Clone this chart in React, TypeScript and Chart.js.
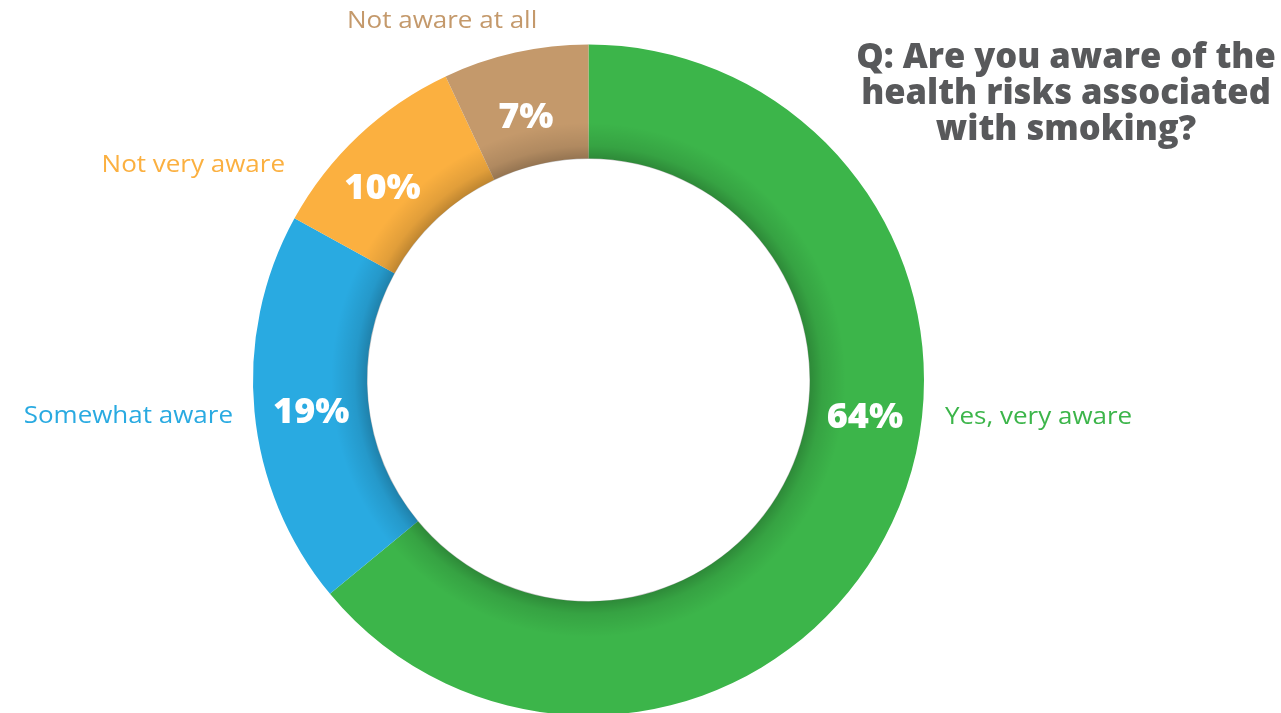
import React, { useEffect, useRef } from "react";
import { Chart, registerables } from "chart.js";

Chart.register(...registerables);

const categories = ["Yes, very aware", "Somewhat aware", "Not very aware", "Not aware at all"];
const values = [64, 19, 10, 7];
const colors = ["#3cb54a", "#29aae1", "#fbb040", "#c4996b"];
const titleLines = ["Q: Are you aware of the", "health risks associated", "with smoking?"];

const CANVAS_W = 1281;
const CANVAS_H = 730;

// label placement (layout only)
const PCT_ANGLE_OVERRIDE: Record<number, number> = { 0: 97, 2: 313.5 };
const PCT_NUDGE: [number, number][] = [[0, 0], [0, 3], [-4, -4], [-2, 6]];
const OUTER_LABELS: { x: number; y: number; align: CanvasTextAlign }[] = [
  { x: 945, y: 424, align: "left" },
  { x: 233, y: 423, align: "right" },
  { x: 285, y: 172, align: "right" },
  { x: 347, y: 28, align: "left" },
];
const LABEL_STRETCH = 1.13;

const innerShadow = {
  id: "innerShadow",
  afterDatasetsDraw(chart: any) {
    const arc = chart.getDatasetMeta(0).data[0];
    if (!arc) return;
    const { x, y, innerRadius } = arc.getProps(["x", "y", "innerRadius"], true);
    const ctx: CanvasRenderingContext2D = chart.ctx;
    const w = 36;
    const g = ctx.createRadialGradient(x, y, innerRadius, x, y, innerRadius + w);
    g.addColorStop(0, "rgba(0,0,0,0.24)");
    g.addColorStop(0.35, "rgba(0,0,0,0.1)");
    g.addColorStop(1, "rgba(0,0,0,0)");
    ctx.save();
    ctx.beginPath();
    ctx.arc(x, y, innerRadius + w, 0, Math.PI * 2);
    ctx.arc(x, y, innerRadius - 0.5, 0, Math.PI * 2, true);
    ctx.fillStyle = g;
    ctx.fill("evenodd");
    ctx.restore();
  },
};

const labelsPlugin = {
  id: "labelsPlugin",
  afterDraw(chart: any) {
    const ctx: CanvasRenderingContext2D = chart.ctx;
    const meta = chart.getDatasetMeta(0);
    ctx.save();
    // percentages
    ctx.fillStyle = "#ffffff";
    ctx.font = "800 36px 'Open Sans'";
    ctx.textAlign = "center";
    ctx.textBaseline = "middle";
    meta.data.forEach((arc: any, i: number) => {
      const p = arc.getProps(["x", "y", "startAngle", "endAngle", "innerRadius", "outerRadius"], true);
      let ang = (p.startAngle + p.endAngle) / 2;
      if (PCT_ANGLE_OVERRIDE[i] !== undefined) {
        ang = -Math.PI / 2 + (PCT_ANGLE_OVERRIDE[i] * Math.PI) / 180;
      }
      const r = (p.innerRadius + p.outerRadius) / 2;
      const tx = p.x + Math.cos(ang) * r + PCT_NUDGE[i][0];
      const ty = p.y + Math.sin(ang) * r + 4 + PCT_NUDGE[i][1];
      ctx.fillText(values[i] + "%", tx, ty);
    });
    // category labels
    ctx.font = "400 23px 'Open Sans'";
    ctx.textBaseline = "alphabetic";
    categories.forEach((c, i) => {
      const l = OUTER_LABELS[i];
      ctx.save();
      ctx.fillStyle = colors[i];
      ctx.textAlign = l.align;
      ctx.translate(l.x, l.y);
      ctx.scale(LABEL_STRETCH, 1);
      ctx.fillText(c, 0, 0);
      ctx.restore();
    });
    // title
    ctx.fillStyle = "#58595b";
    ctx.font = "800 34.5px 'Open Sans'";
    ctx.textAlign = "center";
    ctx.textBaseline = "alphabetic";
    titleLines.forEach((t, i) => {
      ctx.fillText(t, 1066, 67.5 + i * 36);
    });
    ctx.restore();
  },
};

export default function App() {
  const ref = useRef<HTMLCanvasElement | null>(null);
  useEffect(() => {
    if (!ref.current) return;
    const chart = new Chart(ref.current, {
      type: "doughnut",
      data: {
        labels: categories,
        datasets: [
          {
            data: values,
            backgroundColor: colors,
            borderWidth: 0,
            hoverOffset: 0,
          },
        ],
      },
      options: {
        responsive: false,
        animation: false,
        cutout: "66%",
        layout: { padding: { left: 253, right: CANVAS_W - 924, top: 44, bottom: CANVAS_H - 716 } },
        plugins: {
          legend: { display: false },
          tooltip: { enabled: false },
          title: { display: false },
        },
        events: [],
      },
      plugins: [innerShadow, labelsPlugin],
    });
    return () => chart.destroy();
  }, []);
  return (
    <div
      style={{
        position: "fixed",
        left: 0,
        top: 0,
        width: 1281,
        height: 713,
        overflow: "hidden",
        background: "#ffffff",
      }}
    >
      <canvas ref={ref} width={CANVAS_W} height={CANVAS_H} style={{ width: CANVAS_W, height: CANVAS_H, display: "block" }} />
    </div>
  );
}
